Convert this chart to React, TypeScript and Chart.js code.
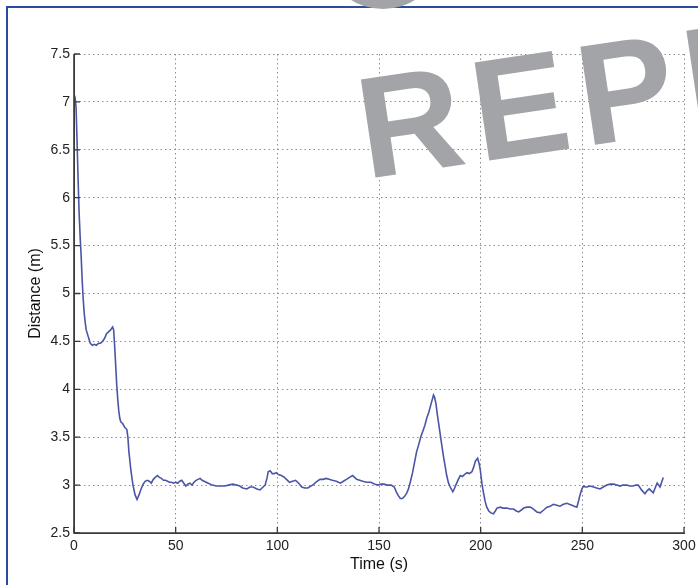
import React, { useEffect, useRef } from "react";
import { Chart, registerables } from "chart.js";

Chart.register(...registerables);

const timeS = [
  0, 0.5, 1, 1.5, 2, 2.5, 3, 3.5, 4, 4.5, 5, 5.5, 6, 7, 8, 9, 10, 11, 12, 13, 14, 15, 16, 17, 18, 19, 19.5,
  20, 20.5, 21, 21.5, 22, 22.5, 23, 24, 25, 26, 26.5, 27, 28, 29, 30, 31, 32, 33, 34, 35, 36, 37, 38, 39,
  40, 41, 42, 43, 44, 45, 46, 47, 48, 49, 50, 51, 52, 53, 54, 55, 56, 57, 58, 59, 60, 61, 62, 63, 64, 65,
  66, 67, 68, 70, 72, 74, 76, 78, 80, 81.5, 83, 85, 86.5, 88, 90, 91.5, 93, 94, 95, 95.5, 96.5, 97.5, 98.5,
  99.5, 100.5, 102, 103.5, 105, 106, 107.5, 109, 110.5, 112, 113.5, 115, 116.5, 118, 119.5, 121, 122.5, 124,
  125.5, 127, 129, 131, 132.5, 134, 135.5, 137, 138, 139, 140.5, 142, 144, 146, 148, 149.5, 151, 152.5, 154,
  156, 157.5, 158.5, 159.5, 160.5, 161.5, 162.5, 163.5, 164.5, 165.5, 166.5, 167.5, 168.5, 169.5, 170.5,
  171.5, 172.5, 173.5, 174.5, 175.5, 176.3, 176.8, 177.3, 178, 178.8, 179.5, 180.3, 181, 181.7, 182.5, 183.3,
  184.2, 185, 186.3, 187.2, 188.2, 189, 190, 191, 192, 193.3, 194.5, 195.7, 196.6, 197.4, 198.5, 199.3,
  199.8, 200.6, 201.4, 202.2, 203, 204, 205, 206.3, 207.2, 208, 209.6, 211, 212.9, 214.5, 216.2, 217.5,
  218.7, 220, 221.1, 222.8, 224.4, 226, 227.6, 229.3, 231, 232.6, 234.2, 235.8, 237.4, 239, 240.7, 242.4,
  243.6, 244.9, 246, 247.3, 248.2, 248.9, 249.8, 250.6, 251.4, 252.2, 253.8, 255.5, 257, 258.7, 260.3, 262,
  263.7, 265.3, 267, 268.5, 270, 271.8, 273.4, 275, 276.3, 277.5, 279.1, 280.8, 281.8, 282.9, 283.9, 284.9,
  285.8, 286.8, 287.5, 288.2, 289, 289.8,
];

const distanceM = [
  7.08, 7.05, 6.95, 6.6, 6.2, 5.85, 5.6, 5.4, 5.15, 4.95, 4.8, 4.7, 4.62, 4.55, 4.48, 4.46, 4.47, 4.46, 4.48,
  4.48, 4.5, 4.53, 4.58, 4.6, 4.62, 4.65, 4.62,
  4.45, 4.25, 4.05, 3.9, 3.78, 3.7, 3.66, 3.64, 3.6, 3.58, 3.5, 3.35, 3.15, 3.0, 2.9, 2.85, 2.9, 2.96, 3.01,
  3.04, 3.05, 3.04, 3.02, 3.06,
  3.08, 3.1, 3.08, 3.07, 3.05, 3.05, 3.04, 3.03, 3.03, 3.02, 3.03, 3.02, 3.04, 3.05, 3.02, 2.99, 3.01, 3.02,
  3.0, 3.03, 3.05, 3.06, 3.07, 3.05, 3.04, 3.03,
  3.02, 3.01, 3.0, 2.99, 2.99, 2.99, 3.0, 3.01, 3.0, 2.99, 2.97, 2.96, 2.98, 2.98, 2.96, 2.95, 2.98, 3.0,
  3.08, 3.14, 3.15, 3.12, 3.12,
  3.13, 3.11, 3.1, 3.08, 3.05, 3.03, 3.04, 3.05, 3.02, 2.98, 2.97, 2.97, 2.99, 3.01, 3.04, 3.06, 3.06, 3.07,
  3.06, 3.05, 3.04, 3.02, 3.04, 3.06, 3.08, 3.1, 3.08, 3.06, 3.05, 3.04, 3.03, 3.03, 3.01, 3.0, 3.01, 3.01,
  3.0,
  3.0, 2.98, 2.93, 2.89, 2.86, 2.86, 2.88, 2.91, 2.96, 3.04, 3.13, 3.24, 3.35, 3.42, 3.5,
  3.56, 3.62, 3.7, 3.76, 3.84, 3.9, 3.94, 3.92, 3.85, 3.72, 3.62, 3.5, 3.4, 3.3, 3.2, 3.1,
  3.02, 2.98, 2.93, 2.97, 3.02, 3.06, 3.1, 3.09, 3.11, 3.13, 3.12, 3.14, 3.19, 3.25, 3.28, 3.22,
  3.16, 3.02, 2.92, 2.83, 2.77, 2.73, 2.71, 2.7, 2.73, 2.76, 2.77, 2.76, 2.76, 2.75, 2.75, 2.73,
  2.72, 2.74, 2.76, 2.77, 2.77, 2.75, 2.72, 2.71, 2.74, 2.77, 2.78, 2.8, 2.79, 2.78, 2.8, 2.81,
  2.8, 2.79, 2.78, 2.77, 2.84, 2.9, 2.96, 2.99, 2.98, 2.98, 2.99, 2.98, 2.97, 2.96, 2.98, 3.0,
  3.01, 3.01, 3.0, 2.99, 3.0, 3.0, 2.99, 2.99, 3.0, 3.0, 2.95, 2.91, 2.94, 2.96, 2.94, 2.92,
  2.97, 3.02, 3.0, 2.98, 3.03, 3.08,
];

const xTickValues = [0, 50, 100, 150, 200, 250, 300];
const yTickValues = [2.5, 3, 3.5, 4, 4.5, 5, 5.5, 6, 6.5, 7, 7.5];
const yTickLabels = ["2.5", "3", "3.5", "4", "4.5", "5", "5.5", "6", "6.5", "7", "7.5"];
const xTitle = "Time (s)";
const yTitle = "Distance (m)";
const watermark = "REPRINT";

const FONT = "'Liberation Sans', Arial, Helvetica, sans-serif";

const decorPlugin = {
  id: "decor",
  beforeDraw(chart: any) {
    const ctx = chart.ctx;
    ctx.save();
    ctx.fillStyle = "#ffffff";
    ctx.fillRect(0, 0, chart.width, chart.height);
    ctx.strokeStyle = "#2c4b9f";
    ctx.lineWidth = 2;
    ctx.beginPath();
    ctx.moveTo(7, 585);
    ctx.lineTo(7, 7);
    ctx.lineTo(698, 7);
    ctx.stroke();
    ctx.restore();
  },
  afterDatasetsDraw(chart: any) {
    const ctx = chart.ctx;
    const xs = chart.scales.x;
    const ys = chart.scales.y;
    const a = chart.chartArea;
    ctx.save();
    ctx.strokeStyle = "#3a3a3a";
    ctx.lineWidth = 1.6;
    ctx.beginPath();
    ctx.moveTo(a.left, a.top);
    ctx.lineTo(a.left, a.bottom);
    ctx.lineTo(a.right, a.bottom);
    ctx.stroke();
    ctx.lineWidth = 1.3;
    ctx.beginPath();
    for (const v of yTickValues) {
      const p = ys.getPixelForValue(v);
      ctx.moveTo(a.left, p);
      ctx.lineTo(a.left + 6, p);
    }
    for (const v of xTickValues) {
      const p = xs.getPixelForValue(v);
      ctx.moveTo(p, a.bottom);
      ctx.lineTo(p, a.bottom - 6);
    }
    ctx.stroke();
    ctx.restore();
  },
  afterDraw(chart: any) {
    const ctx = chart.ctx;
    ctx.save();
    ctx.fillStyle = "#a3a4a8";
    ctx.beginPath();
    ctx.ellipse(383, -30, 50, 39, 0, 0, Math.PI * 2);
    ctx.fill();
    ctx.translate(366, 179);
    ctx.rotate((-8.5 * Math.PI) / 180);
    ctx.font = "bold 144px " + FONT;
    try {
      (ctx as any).letterSpacing = "11px";
    } catch (e) {}
    ctx.textBaseline = "alphabetic";
    ctx.textAlign = "left";
    ctx.fillText(watermark, 0, 0);
    ctx.restore();
  },
};

export default function App() {
  const ref = useRef<HTMLCanvasElement | null>(null);
  useEffect(() => {
    if (!ref.current) return;
    const points = timeS.map((t, i) => ({ x: t, y: distanceM[i] }));
    const chart = new Chart(ref.current, {
      type: "line",
      data: {
        datasets: [
          {
            data: points,
            borderColor: "#4a55a6",
            borderWidth: 1.6,
            pointRadius: 0,
            tension: 0,
            fill: false,
          },
        ],
      },
      options: {
        animation: false,
        responsive: false,
        devicePixelRatio: 1,
        layout: { padding: { left: 0, top: 54, right: 14, bottom: 0 } },
        plugins: { legend: { display: false }, tooltip: { enabled: false } },
        scales: {
          x: {
            type: "linear",
            min: 0,
            max: 300,
            afterFit: (s: any) => {
              s.height = 52;
              s.paddingLeft = 0;
              s.paddingRight = 0;
            },
            afterBuildTicks: (s: any) => {
              s.ticks = xTickValues.map((v) => ({ value: v }));
            },
            ticks: {
              padding: 5,
              color: "#222",
              font: { family: FONT, size: 14 },
              maxRotation: 0,
              callback: (v: any) => String(v),
            },
            grid: { color: "#8e8e8e", lineWidth: 1, drawTicks: false },
            border: { display: true, color: "#3a3a3a", width: 1, dash: [1.5, 3] },
            title: {
              display: true,
              text: xTitle,
              color: "#111",
              font: { family: FONT, size: 16 },
              padding: { top: 0, bottom: 11 },
            },
          },
          y: {
            type: "linear",
            min: 2.5,
            max: 7.5,
            afterFit: (s: any) => {
              s.width = 74;
              s.paddingTop = 0;
              s.paddingBottom = 0;
            },
            afterBuildTicks: (s: any) => {
              s.ticks = yTickValues.map((v) => ({ value: v }));
            },
            ticks: {
              padding: 4,
              color: "#222",
              font: { family: FONT, size: 14 },
              callback: (v: any) => {
                const i = yTickValues.indexOf(Number(v));
                return i >= 0 ? yTickLabels[i] : "";
              },
            },
            grid: { color: "#8e8e8e", lineWidth: 1, drawTicks: false },
            border: { display: true, color: "#3a3a3a", width: 1, dash: [1.5, 3] },
            title: {
              display: true,
              text: yTitle,
              color: "#111",
              font: { family: FONT, size: 16 },
              padding: { top: 26, bottom: 0 },
            },
          },
        },
      },
      plugins: [decorPlugin],
    });
    return () => chart.destroy();
  }, []);
  return (
    <div style={{ position: "absolute", left: 0, top: 0, width: 698, height: 585, background: "#fff" }}>
      <canvas ref={ref} width={698} height={585} style={{ display: "block", width: 698, height: 585 }} />
    </div>
  );
}
